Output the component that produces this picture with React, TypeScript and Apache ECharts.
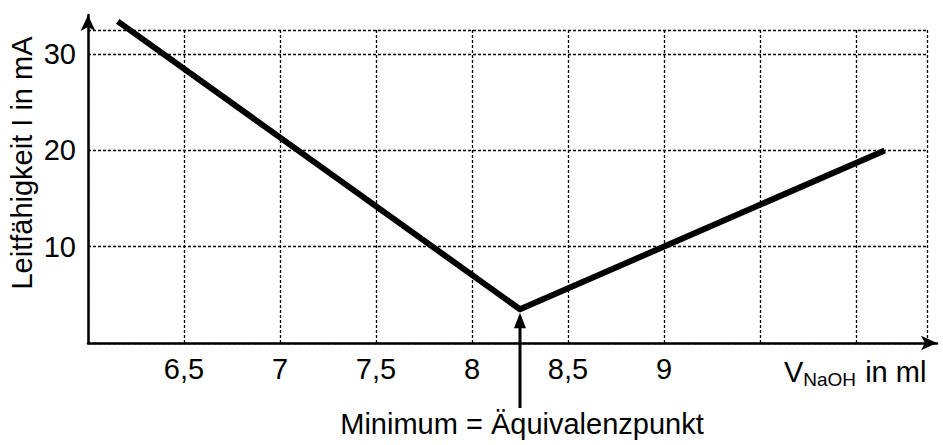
import React, { useEffect, useRef } from "react";
import * as echarts from "echarts";

const CURVE_X = [6.155, 8.25, 10.15];
const CURVE_Y = [33.4, 3.5, 20];

const X_TICKS = [6.5, 7, 7.5, 8, 8.5, 9];
const X_TICK_LABELS = ["6,5", "7", "7,5", "8", "8,5", "9"];
const Y_TICKS = [10, 20, 30];
const Y_TICK_LABELS = ["10", "20", "30"];

const X_MIN = 6;
const X_MAX = 10.37;
const Y_MIN = 0;
const Y_MAX = 32.5;

const Y_NAME = "Leitfähigkeit I in mA";
const X_NAME_MAIN = "V";
const X_NAME_SUB = "NaOH";
const X_NAME_UNIT = " in ml";
const ANNOTATION = "Minimum = Äquivalenzpunkt";

const FONT = "'Liberation Sans', Arial, sans-serif";
const FS = 29;

export default function App() {
  const ref = useRef<HTMLDivElement>(null);

  useEffect(() => {
    if (!ref.current) return;
    const chart = echarts.init(ref.current, undefined, { renderer: "svg" });
    const data = CURVE_X.map((x, i) => [x, CURVE_Y[i]]);
    const dotted = { type: [3, 2] as any, color: "#000", width: 1.3 };

    chart.setOption({
      animation: false,
      backgroundColor: "#fff",
      grid: [
        { left: 88, right: 16, top: 30, bottom: 102 },
        { left: 88, right: 6, top: 15, bottom: 102 },
      ],
      xAxis: [
        {
          type: "value",
          gridIndex: 0,
          min: X_MIN,
          max: X_MAX,
          interval: 0.5,
          axisLine: { show: false },
          axisTick: { show: false },
          splitLine: { show: true, lineStyle: dotted },
          axisLabel: {
            margin: 11,
            fontSize: FS,
            color: "#000",
            fontFamily: FONT,
            formatter: (v: number) => {
              const i = X_TICKS.findIndex((t) => Math.abs(t - v) < 1e-6);
              return i >= 0 ? X_TICK_LABELS[i] : "";
            },
          },
        },
        {
          type: "value",
          gridIndex: 1,
          min: 0,
          max: 1,
          axisLine: {
            show: true,
            symbol: ["none", "arrow"],
            symbolSize: [11, 16],
            lineStyle: { color: "#000", width: 2.5 },
          },
          axisTick: { show: false },
          axisLabel: { show: false },
          splitLine: { show: false },
        },
      ],
      yAxis: [
        {
          type: "value",
          gridIndex: 0,
          min: Y_MIN,
          max: Y_MAX,
          interval: 10,
          axisLine: { show: false },
          axisTick: { show: false },
          splitLine: { show: true, lineStyle: dotted },
          axisLabel: {
            margin: 12,
            fontSize: FS,
            color: "#000",
            fontFamily: FONT,
            formatter: (v: number) => {
              const i = Y_TICKS.findIndex((t) => Math.abs(t - v) < 1e-6);
              return i >= 0 ? Y_TICK_LABELS[i] : "";
            },
          },
        },
        {
          type: "value",
          gridIndex: 1,
          min: 0,
          max: 1,
          axisLine: {
            show: true,
            symbol: ["none", "arrow"],
            symbolSize: [11, 16],
            lineStyle: { color: "#000", width: 2.5 },
          },
          axisTick: { show: false },
          axisLabel: { show: false },
          splitLine: { show: false },
        },
      ],
      series: [
        {
          type: "line",
          xAxisIndex: 0,
          yAxisIndex: 0,
          data,
          symbol: "none",
          clip: false,
          lineStyle: { color: "#000", width: 6, join: "round", cap: "butt" },
          z: 5,
        },
      ],
    });

    // annotation arrow at the minimum
    let mi = 0;
    CURVE_Y.forEach((y, i) => {
      if (y < CURVE_Y[mi]) mi = i;
    });
    const p = chart.convertToPixel({ seriesIndex: 0 }, [CURVE_X[mi], CURVE_Y[mi]]) as number[];
    const px = p[0];
    const py = p[1];
    const xEnd = chart.convertToPixel({ xAxisIndex: 0 }, 10.0) as number;

    chart.setOption({
      graphic: [
        {
          type: "line",
          shape: { x1: px, y1: py + 18, x2: px, y2: 408 },
          style: { stroke: "#000", lineWidth: 3 },
          z: 10,
        },
        {
          type: "polygon",
          shape: { points: [[px, py + 3.5], [px - 6, py + 19], [px + 6, py + 19]] },
          style: { fill: "#000" },
          z: 10,
        },
        {
          type: "text",
          x: px + 2,
          y: 424,
          style: {
            text: ANNOTATION,
            font: `${FS}px ${FONT}`,
            fill: "#000",
            textAlign: "center",
            textVerticalAlign: "middle",
          },
          z: 10,
        },
        {
          type: "text",
          x: 22,
          y: 163,
          rotation: Math.PI / 2,
          style: {
            text: Y_NAME,
            font: `${FS}px ${FONT}`,
            fill: "#000",
            textAlign: "center",
            textVerticalAlign: "middle",
          },
          z: 10,
        },
        {
          type: "text",
          x: xEnd - 72,
          y: 372,
          style: {
            text: `{v|${X_NAME_MAIN}}{s|${X_NAME_SUB}}{t|${X_NAME_UNIT}}`,
            fill: "#000",
            textAlign: "left",
            textVerticalAlign: "middle",
            rich: {
              v: { fontSize: FS, fontFamily: FONT, fill: "#000" },
              s: { fontSize: 19, fontFamily: FONT, fill: "#000", padding: [15, 1, 0, 0] },
              t: { fontSize: FS, fontFamily: FONT, fill: "#000" },
            },
          },
          z: 10,
        },
      ],
    });

    return () => chart.dispose();
  }, []);

  return (
    <div
      ref={ref}
      style={{ position: "fixed", left: 0, top: 0, width: 943, height: 445 }}
    />
  );
}
